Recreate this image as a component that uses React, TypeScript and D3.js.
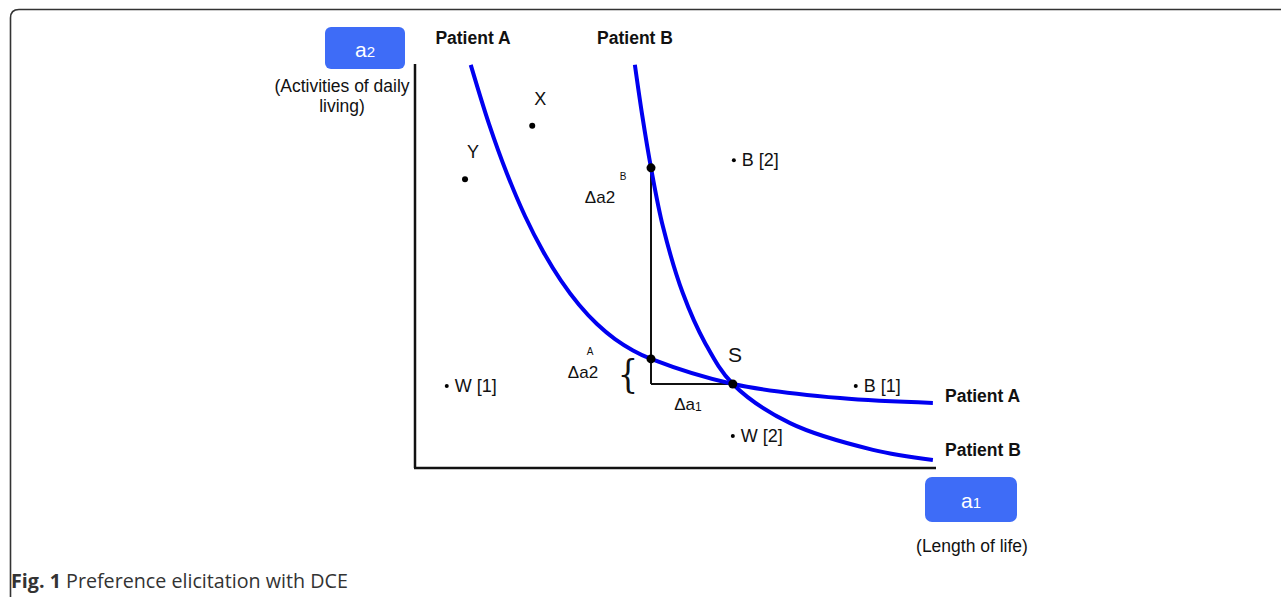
import React from "react";
import * as d3 from "d3";

const W = 1281;
const H = 597;

// Indifference curves (a1 = length of life, a2 = activities of daily living)
const curveA: [number, number][] = [
  [10.7, 99.8], [14.2, 85.2], [17.66, 72.85], [21.11, 62.38], [24.57, 53.64], [28.02, 46.39],
  [31.48, 40.42], [34.93, 35.64], [38.39, 31.91], [41.84, 29.11], [45.3, 27.0],
  [61.0, 20.8], [81.6, 17.3], [99.4, 16.1],
];
const curveB: [number, number][] = [
  [42.2, 99.8], [43.6, 87.4], [45.3, 74.3], [47.6, 59.7], [51.4, 43.3], [55.7, 30.9],
  [61.0, 20.8], [72.0, 11.1], [87.9, 4.5], [99.4, 2.0],
];

const bigPoints = [
  { name: "X", a1: 22.5, a2: 84.7 },
  { name: "Y", a1: 9.6, a2: 71.5 },
];
const smallPoints = [
  { name: "B [2]", a1: 61.2, a2: 76.2 },
  { name: "W [1]", a1: 6.1, a2: 20.3 },
  { name: "B [1]", a1: 84.6, a2: 20.3 },
  { name: "W [2]", a1: 61.0, a2: 7.9 },
];
const pointOnB = { a1: 45.3, a2: 74.3 };
const pointOnA = { a1: 45.3, a2: 27.0 };
const pointS = { a1: 61.0, a2: 20.8 };

const x = d3.scaleLinear().domain([0, 100]).range([415, 936]);
const y = d3.scaleLinear().domain([0, 100]).range([468, 64]);

const line = d3
  .line<[number, number]>()
  .x((d) => x(d[0]))
  .y((d) => y(d[1]))
  .curve(d3.curveCatmullRom.alpha(0.5));

const FONT = "'Liberation Sans', Arial, sans-serif";
const BLUE = "#0000f0";
const BOX = "#3e6cf7";

export default function App() {
  return (
    <svg
      width={W}
      height={H}
      viewBox={`0 0 ${W} ${H}`}
      style={{ position: "absolute", left: 0, top: 0, background: "#fff" }}
      fontFamily={FONT}
    >
      {/* frame */}
      <path d={`M10.5,${H} V18 Q10.5,9.5 19,9.5 H${W}`} fill="none" stroke="#333" strokeWidth={1.6} />

      {/* axes */}
      <line x1={x(0)} y1={y(0)} x2={x(0)} y2={y(100)} stroke="#111" strokeWidth={2.5} />
      <line x1={x(0) - 1} y1={y(0)} x2={x(100)} y2={y(0)} stroke="#111" strokeWidth={2.5} />

      {/* right-angle construction lines */}
      <line x1={x(pointOnB.a1)} y1={y(pointOnB.a2)} x2={x(pointOnB.a1)} y2={y(pointS.a2)} stroke="#111" strokeWidth={2} />
      <line x1={x(pointOnB.a1)} y1={y(pointS.a2)} x2={x(pointS.a1)} y2={y(pointS.a2)} stroke="#111" strokeWidth={2} />

      {/* curves */}
      <path d={line(curveA) || ""} fill="none" stroke={BLUE} strokeWidth={4} />
      <path d={line(curveB) || ""} fill="none" stroke={BLUE} strokeWidth={4} />

      {/* marked points */}
      {[pointOnB, pointOnA, pointS].map((p, i) => (
        <circle key={i} cx={x(p.a1)} cy={y(p.a2)} r={4.5} fill="#000" />
      ))}

      {/* big points */}
      {bigPoints.map((p) => (
        <g key={p.name}>
          <circle cx={x(p.a1)} cy={y(p.a2)} r={3} fill="#000" />
          <text x={x(p.a1) + 8} y={y(p.a2) - 21} fontSize={18} textAnchor="middle" fill="#111">
            {p.name}
          </text>
        </g>
      ))}

      {/* small points */}
      {smallPoints.map((p) => (
        <g key={p.name}>
          <circle cx={x(p.a1)} cy={y(p.a2)} r={2} fill="#000" />
          <text x={x(p.a1) + 8} y={y(p.a2) + 6} fontSize={18} fill="#111">
            {p.name}
          </text>
        </g>
      ))}

      {/* delta labels */}
      <text x={623} y={180} fontSize={10} textAnchor="middle" fill="#111">B</text>
      <text x={600} y={203} fontSize={17} textAnchor="middle" fill="#111">Δa2</text>
      <text x={590} y={355} fontSize={10} textAnchor="middle" fill="#111">A</text>
      <text x={583} y={378} fontSize={17} textAnchor="middle" fill="#111">Δa2</text>
      <text x={628} y={387} fontSize={40} textAnchor="middle" fill="#111" fontFamily="'DejaVu Serif', serif" fontWeight={200} transform="translate(628,372) scale(0.8,1) translate(-628,-372)">{"{"}</text>
      <text x={688} y={410} fontSize={17} textAnchor="middle" fill="#111">
        Δa<tspan fontSize={12} dy={1}>1</tspan>
      </text>
      <text x={735} y={362} fontSize={21} textAnchor="middle" fill="#111">S</text>

      {/* patient labels */}
      <text x={473} y={44} fontSize={17.5} fontWeight="bold" textAnchor="middle" fill="#111">Patient A</text>
      <text x={635} y={44} fontSize={17.5} fontWeight="bold" textAnchor="middle" fill="#111">Patient B</text>
      <text x={945} y={402} fontSize={17.5} fontWeight="bold" fill="#111">Patient A</text>
      <text x={945} y={456} fontSize={17.5} fontWeight="bold" fill="#111">Patient B</text>

      {/* a2 box */}
      <rect x={325} y={27} width={80} height={42} rx={6} fill={BOX} />
      <text x={365} y={57} fontSize={21} textAnchor="middle" fill="#fff">
        a<tspan fontSize={15}>2</tspan>
      </text>
      <text x={342} y={92} fontSize={17.5} textAnchor="middle" fill="#111">(Activities of daily</text>
      <text x={342} y={112} fontSize={17.5} textAnchor="middle" fill="#111">living)</text>

      {/* a1 box */}
      <rect x={925} y={477} width={92} height={45} rx={7} fill={BOX} />
      <text x={971} y={508} fontSize={21} textAnchor="middle" fill="#fff">
        a<tspan fontSize={15}>1</tspan>
      </text>
      <text x={972} y={552} fontSize={17.5} textAnchor="middle" fill="#111">(Length of life)</text>

      {/* caption */}
      <text x={11} y={588} fontSize={19.7} fill="#333" fontFamily="'Open Sans', 'Noto Sans', sans-serif">
        <tspan fontWeight="bold">Fig. 1</tspan> Preference elicitation with DCE
      </text>
    </svg>
  );
}
